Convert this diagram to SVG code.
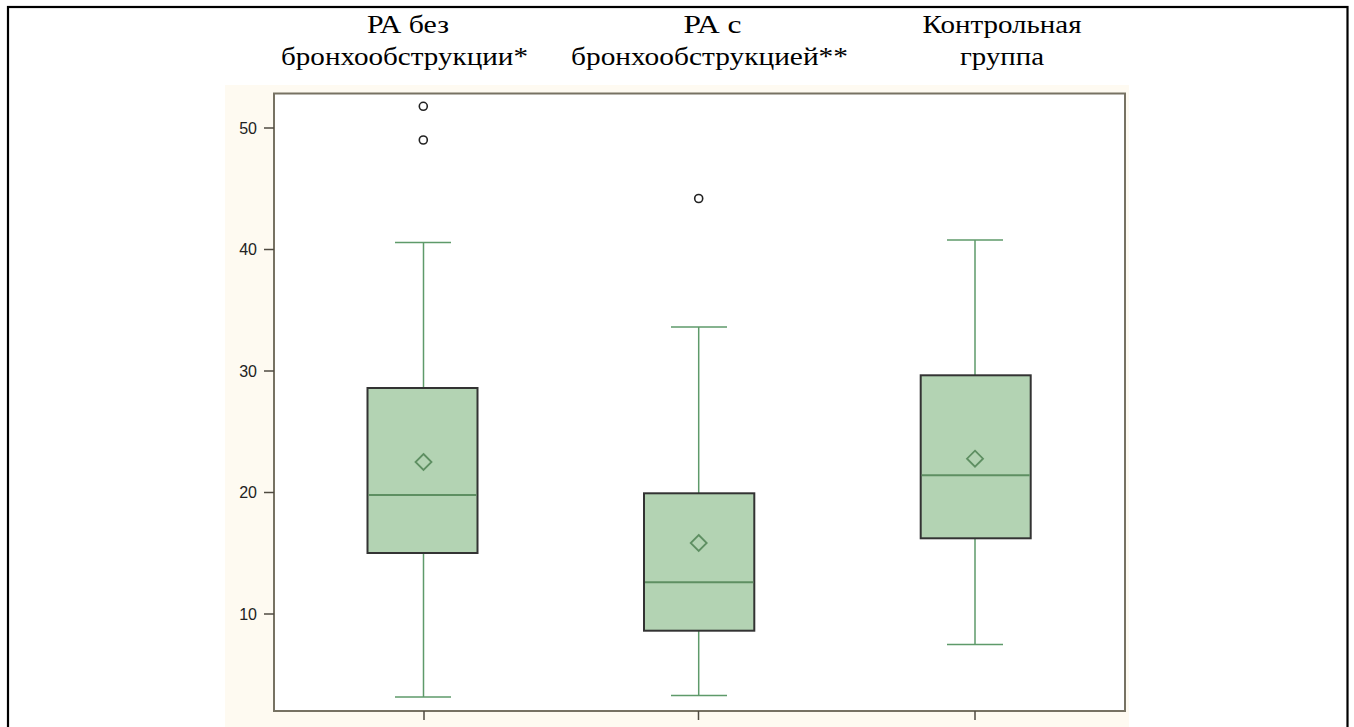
<svg xmlns="http://www.w3.org/2000/svg" width="1354" height="727" viewBox="0 0 1354 727">
<style>
.hdr{font-family:"Liberation Serif","Times New Roman",serif;font-size:26px;fill:#000;text-anchor:middle}
.tick{font-family:"Liberation Sans",Arial,sans-serif;font-size:16px;fill:#222;text-anchor:end}
.frame{fill:#fff;stroke:#777263;stroke-width:2}
.tk{stroke:#4f4a40;stroke-width:1.5}
.box{fill:#b3d3b3;stroke:#333;stroke-width:2}
.wh{stroke:#5e9a6a;stroke-width:1.5;fill:none}
.med{stroke:#5e8f62;stroke-width:2}
.mean{fill:none;stroke:#5e8f62;stroke-width:1.8}
.out{fill:none;stroke:#222;stroke-width:1.6}
</style>
<rect x="0" y="0" width="1354" height="727" fill="#fff"/>
<rect x="8" y="7" width="1339.5" height="740" fill="none" stroke="#000" stroke-width="2.2"/>
<g id="headers">
<text class="hdr" x="408" y="33" textLength="82" lengthAdjust="spacingAndGlyphs">РА без</text>
<text class="hdr" x="404.5" y="65" textLength="247" lengthAdjust="spacingAndGlyphs">бронхообструкции*</text>
<text class="hdr" x="712.5" y="33" textLength="58" lengthAdjust="spacingAndGlyphs">РА с</text>
<text class="hdr" x="709.5" y="65" textLength="277" lengthAdjust="spacingAndGlyphs">бронхообструкцией**</text>
<text class="hdr" x="1002" y="33" textLength="159" lengthAdjust="spacingAndGlyphs">Контрольная</text>
<text class="hdr" x="1002" y="65" textLength="84" lengthAdjust="spacingAndGlyphs">группа</text>
</g>
<g id="plot-area">
<rect x="225" y="85" width="904" height="650" fill="#fefaf1"/>
<rect class="frame" x="274" y="93.5" width="851" height="617.5"/>
</g>
<g id="y-axis">
<line class="tk" x1="264" y1="128" x2="274" y2="128"/>
<line class="tk" x1="264" y1="249.5" x2="274" y2="249.5"/>
<line class="tk" x1="264" y1="371" x2="274" y2="371"/>
<line class="tk" x1="264" y1="492.5" x2="274" y2="492.5"/>
<line class="tk" x1="264" y1="614" x2="274" y2="614"/>
<text class="tick" x="257" y="133.5">50</text>
<text class="tick" x="257" y="255">40</text>
<text class="tick" x="257" y="376.5">30</text>
<text class="tick" x="257" y="498">20</text>
<text class="tick" x="257" y="619.5">10</text>
</g>
<g id="x-axis">
<line class="tk" x1="424" y1="711" x2="424" y2="720"/>
<line class="tk" x1="698.5" y1="711" x2="698.5" y2="720"/>
<line class="tk" x1="975" y1="711" x2="975" y2="720"/>
</g>
<g id="connectors">
<line class="wh" x1="423.5" y1="242.5" x2="423.5" y2="388"/>
<line class="wh" x1="395" y1="242.5" x2="451" y2="242.5"/>
<line class="wh" x1="423.5" y1="553" x2="423.5" y2="697"/>
<line class="wh" x1="395" y1="697" x2="451" y2="697"/>
<line class="wh" x1="698.7" y1="327" x2="698.7" y2="493"/>
<line class="wh" x1="671" y1="327" x2="727" y2="327"/>
<line class="wh" x1="698.7" y1="631" x2="698.7" y2="695.5"/>
<line class="wh" x1="671" y1="695.5" x2="727" y2="695.5"/>
<line class="wh" x1="975" y1="240" x2="975" y2="375.5"/>
<line class="wh" x1="947" y1="240" x2="1003" y2="240"/>
<line class="wh" x1="975" y1="538.5" x2="975" y2="644.5"/>
<line class="wh" x1="947" y1="644.5" x2="1003" y2="644.5"/>
</g>
<g id="box1">
<rect class="box" x="367.5" y="388" width="110" height="165"/>
<line class="med" x1="368.5" y1="495" x2="476.5" y2="495"/>
<path class="mean" d="M423.5 454 L431.5 462 L423.5 470 L415.5 462 Z"/>
<circle class="out" cx="423.3" cy="106.3" r="4"/>
<circle class="out" cx="423.3" cy="140" r="4"/>
</g>
<g id="box2">
<rect class="box" x="644" y="493.3" width="110.3" height="137.4"/>
<line class="med" x1="645" y1="582.3" x2="753.3" y2="582.3"/>
<path class="mean" d="M698.7 535 L706.7 543 L698.7 551 L690.7 543 Z"/>
<circle class="out" cx="698.7" cy="198.5" r="4"/>
</g>
<g id="box3">
<rect class="box" x="920.7" y="375.3" width="110" height="163"/>
<line class="med" x1="921.7" y1="475.3" x2="1029.7" y2="475.3"/>
<path class="mean" d="M975 450.7 L983 458.7 L975 466.7 L967 458.7 Z"/>
</g>
</svg>
